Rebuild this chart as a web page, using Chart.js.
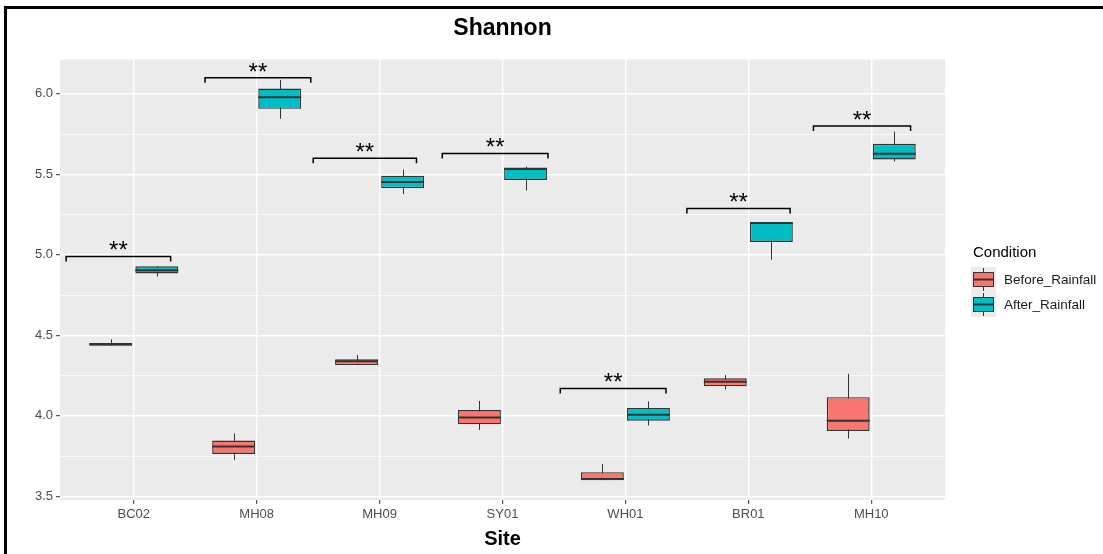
<!DOCTYPE html>
<html>
<head>
<meta charset="utf-8">
<title>Shannon</title>
<script src="https://cdn.jsdelivr.net/npm/chart.js@4.4.1/dist/chart.umd.min.js"></script>
<style>
  html, body { margin: 0; padding: 0; background: #fff; }
  #wrap { position: relative; width: 1103px; height: 554px; }
</style>
</head>
<body>
<div id="wrap"><canvas id="shannon"></canvas></div>
<script>
// Sites along the x axis
const sites = ['BC02', 'MH08', 'MH09', 'SY01', 'WH01', 'BR01', 'MH10']

// Before_Rainfall box stats
const beforeMin = [4.435, 3.726, 4.315, 3.912, 3.600, 4.164, 3.859]
const beforeQ1  = [4.435, 3.763, 4.315, 3.947, 3.600, 4.183, 3.906]
const beforeMed = [4.445, 3.810, 4.339, 3.990, 3.607, 4.212, 3.970]
const beforeQ3  = [4.452, 3.846, 4.351, 4.036, 3.650, 4.233, 4.116]
const beforeMax = [4.475, 3.890, 4.378, 4.092, 3.700, 4.253, 4.261]

// After_Rainfall box stats
const afterMin = [4.865, 5.845, 5.378, 5.400, 3.940, 4.970, 5.580]
const afterQ1  = [4.884, 5.907, 5.414, 5.465, 3.970, 5.080, 5.593]
const afterMed = [4.905, 5.979, 5.453, 5.534, 4.007, 5.198, 5.628]
const afterQ3  = [4.929, 6.033, 5.492, 5.542, 4.048, 5.203, 5.690]
const afterMax = [4.929, 6.087, 5.530, 5.548, 4.090, 5.203, 5.766]

// Significance brackets (x in category units, y in Shannon units)
const bracketFrom = [-0.55, 0.58, 1.46, 2.51, 3.47, 4.50, 5.53]
const bracketTo   = [0.30, 1.44, 2.30, 3.37, 4.33, 5.34, 6.32]
const bracketY    = [4.990, 6.101, 5.600, 5.630, 4.170, 5.288, 5.800]
const sigLabels   = ['**', '**', '**', '**', '**', '**', '**']

// Y axis
const yMin = 3.477
const yMax = 6.213
const yGrid = [3.5, 3.75, 4.0, 4.25, 4.5, 4.75, 5.0, 5.25, 5.5, 5.75, 6.0]

const FONT = "'Liberation Sans', Arial, sans-serif"
const EDGE = '#333333'
const isMajor = v => Math.abs(v * 2 - Math.round(v * 2)) < 1e-6

const groups = [
  { label: 'Before_Rainfall', fill: '#F8766D', min: beforeMin, q1: beforeQ1, med: beforeMed, q3: beforeQ3, max: beforeMax },
  { label: 'After_Rainfall', fill: '#00BFC4', min: afterMin, q1: afterQ1, med: afterMed, q3: afterQ3, max: afterMax },
]

// Grey panel, white page, black frame of the screenshot
const panelPlugin = {
  id: 'panel',
  beforeDraw(chart) {
    const { ctx, chartArea: a } = chart
    ctx.save()
    ctx.fillStyle = '#ffffff'
    ctx.fillRect(0, 0, chart.width, chart.height)
    ctx.fillStyle = '#ebebeb'
    ctx.fillRect(a.left, a.top, a.right - a.left, a.bottom - a.top)
    ctx.fillStyle = '#000000'
    ctx.fillRect(4, 6, chart.width - 4, 3)
    ctx.fillRect(4, 6, 3, chart.height - 6)
    ctx.restore()
  },
}

// Whiskers under the boxes, medians + brackets on top
const boxPlugin = {
  id: 'boxExtras',
  beforeDatasetsDraw(chart) {
    const { ctx } = chart
    const y = chart.scales.y
    ctx.save()
    ctx.strokeStyle = EDGE
    ctx.lineWidth = 1
    groups.forEach((g, di) => {
      chart.getDatasetMeta(di).data.forEach((bar, i) => {
        const x = Math.round(bar.x) + 0.5
        ctx.beginPath()
        ctx.moveTo(x, y.getPixelForValue(g.max[i]))
        ctx.lineTo(x, y.getPixelForValue(g.min[i]))
        ctx.stroke()
      })
    })
    ctx.restore()
  },
  afterDatasetsDraw(chart) {
    const { ctx } = chart
    const xs = chart.scales.x
    const y = chart.scales.y
    ctx.save()
    ctx.strokeStyle = EDGE
    ctx.lineWidth = 2
    groups.forEach((g, di) => {
      chart.getDatasetMeta(di).data.forEach((bar, i) => {
        const py = y.getPixelForValue(g.med[i])
        ctx.beginPath()
        ctx.moveTo(bar.x - bar.width / 2, py)
        ctx.lineTo(bar.x + bar.width / 2, py)
        ctx.stroke()
      })
    })

    ctx.strokeStyle = '#000000'
    ctx.fillStyle = '#000000'
    ctx.lineWidth = 1.5
    ctx.font = '24px ' + FONT
    ctx.textAlign = 'center'
    ctx.textBaseline = 'alphabetic'
    sites.forEach((s, i) => {
      const x1 = xs.getPixelForValue(bracketFrom[i])
      const x2 = xs.getPixelForValue(bracketTo[i])
      const by = y.getPixelForValue(bracketY[i])
      ctx.beginPath()
      ctx.moveTo(x1, by + 5)
      ctx.lineTo(x1, by)
      ctx.lineTo(x2, by)
      ctx.lineTo(x2, by + 5)
      ctx.stroke()
      ctx.fillText(sigLabels[i], (x1 + x2) / 2, by + 2)
    })
    ctx.restore()
  },
}

// ggplot style legend on the right
const legendPlugin = {
  id: 'conditionLegend',
  afterDraw(chart) {
    const { ctx, chartArea: a } = chart
    const left = a.right + 26
    const top = 267
    const key = 25
    ctx.save()
    ctx.fillStyle = '#000000'
    ctx.font = '15px ' + FONT
    ctx.textAlign = 'left'
    ctx.textBaseline = 'middle'
    ctx.fillText('Condition', left + 2, 253)

    groups.forEach((g, i) => {
      const ky = top + i * key
      ctx.fillStyle = '#ebebeb'
      ctx.fillRect(left, ky, key, key)
      const bx = left + 2
      const bw = key - 4
      const cx = left + key / 2
      ctx.strokeStyle = EDGE
      ctx.lineWidth = 1
      ctx.beginPath()
      ctx.moveTo(cx, ky + 1)
      ctx.lineTo(cx, ky + key - 1)
      ctx.stroke()
      ctx.fillStyle = g.fill
      ctx.fillRect(bx, ky + 5.5, bw, 14)
      ctx.strokeRect(bx + 0.5, ky + 5.5, bw - 1, 14)
      ctx.lineWidth = 2
      ctx.beginPath()
      ctx.moveTo(bx, ky + key / 2)
      ctx.lineTo(bx + bw, ky + key / 2)
      ctx.stroke()

      ctx.fillStyle = '#1a1a1a'
      ctx.font = '13.5px ' + FONT
      ctx.fillText(g.label, left + 33, ky + key / 2 + 1)
    })
    ctx.restore()
  },
}

const ctx = document.getElementById('shannon').getContext('2d')
new Chart(ctx, {
  type: 'bar',
  data: {
    datasets: groups.map(g => ({
      label: g.label,
      data: sites.map((s, i) => ({ x: i, y: [g.q1[i], g.q3[i]] })),
      backgroundColor: g.fill,
      borderColor: EDGE,
      borderWidth: 1.4,
      borderSkipped: false,
      categoryPercentage: 0.75,
      barPercentage: 0.93,
    })),
  },
  options: {
    responsive: true,
    maintainAspectRatio: false,
    animation: false,
    events: [],
    layout: { padding: { left: 5, right: 158, top: 0, bottom: 0 } },
    plugins: {
      legend: { display: false },
      tooltip: { enabled: false },
      title: {
        display: true,
        text: 'Shannon',
        fullSize: false,
        color: '#000000',
        font: { family: FONT, size: 23, weight: 'bold' },
        padding: { top: 15, bottom: 17 },
      },
    },
    scales: {
      x: {
        type: 'linear',
        min: -0.6,
        max: 6.6,
        offset: false,
        afterBuildTicks: scale => { scale.ticks = sites.map((s, i) => ({ value: i })) },
        afterFit: scale => { scale.height = 54 },
        grid: { offset: false, color: '#ffffff', lineWidth: 1.4, tickColor: EDGE, tickLength: 4, tickWidth: 1 },
        border: { display: false },
        ticks: {
          color: '#4d4d4d',
          font: { family: FONT, size: 13 },
          padding: 3,
          maxRotation: 0,
          callback: v => sites[Math.round(v)],
        },
        title: {
          display: true,
          text: 'Site',
          color: '#000000',
          font: { family: FONT, size: 20, weight: 'bold' },
          padding: { top: 0, bottom: 3 },
        },
      },
      y: {
        min: yMin,
        max: yMax,
        afterBuildTicks: scale => { scale.ticks = yGrid.map(v => ({ value: v })) },
        afterFit: scale => { scale.width = 55 },
        grid: {
          color: '#ffffff',
          lineWidth: c => (c.tick && isMajor(c.tick.value) ? 1.4 : 0.7),
          tickColor: c => (c.tick && isMajor(c.tick.value) ? EDGE : 'rgba(0,0,0,0)'),
          tickLength: 4,
          tickWidth: 1,
        },
        border: { display: false },
        ticks: {
          color: '#4d4d4d',
          font: { family: FONT, size: 13 },
          padding: 3,
          autoSkip: false,
          callback: v => (isMajor(v) ? v.toFixed(1) : ''),
        },
      },
    },
  },
  plugins: [panelPlugin, boxPlugin, legendPlugin],
})
</script>
</body>
</html>
